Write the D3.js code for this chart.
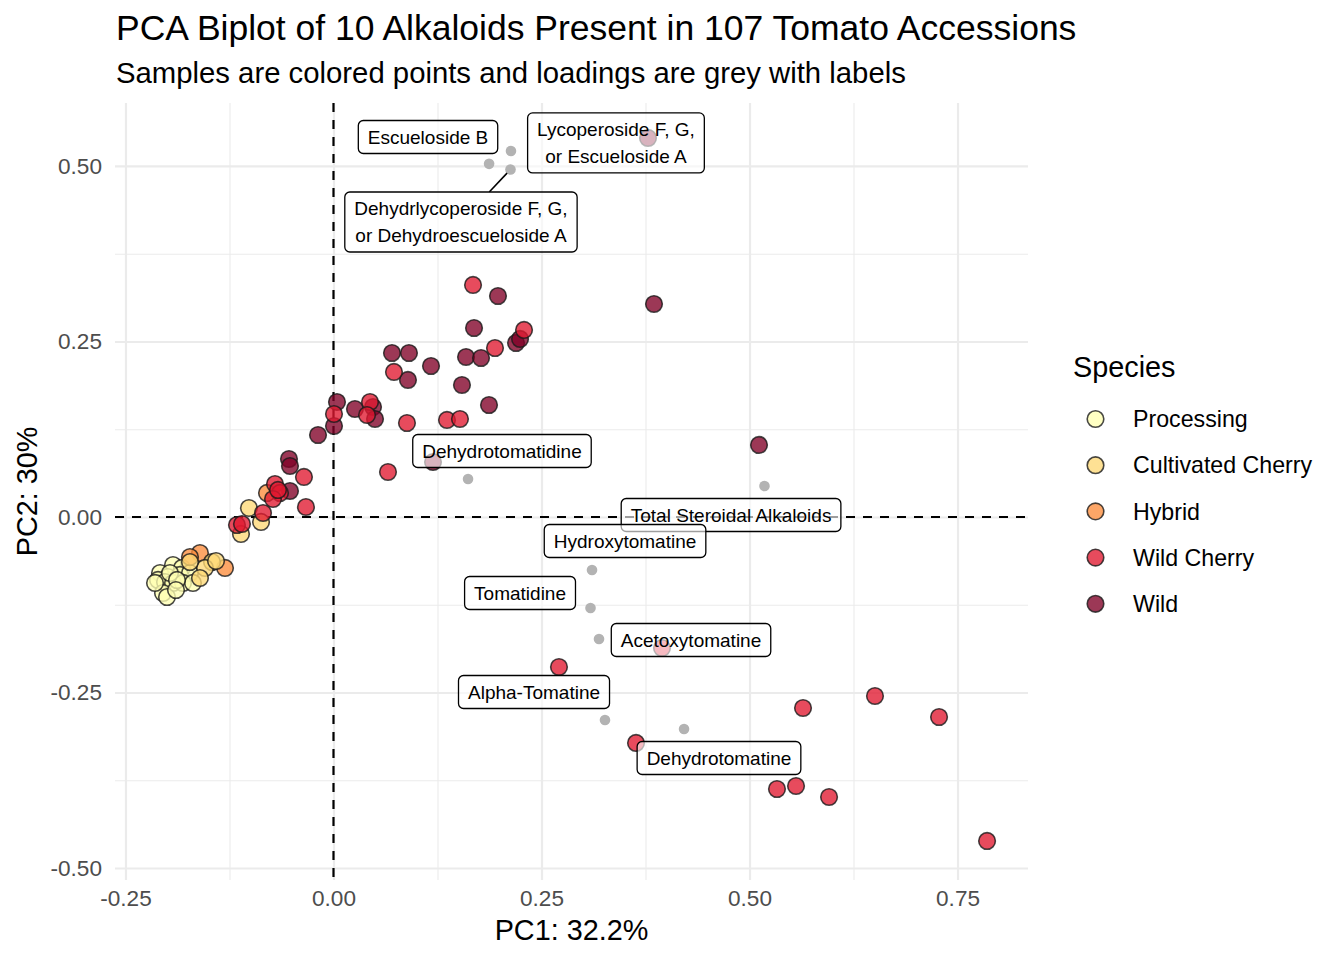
<!DOCTYPE html>
<html>
<head>
<meta charset="utf-8">
<script src="https://cdn.jsdelivr.net/npm/d3@7"></script>
<style>
  body { margin: 0; background: #fff; }
  svg text { font-family: "Liberation Sans", Arial, Helvetica, sans-serif; }
</style>
</head>
<body>
<div id="biplot"></div>
<script>
/*********************************************
** PCA biplot of tomato alkaloids
** d3 v7
**********************************************/

// legend order and palette
var species = ["Processing", "Cultivated Cherry", "Hybrid", "Wild Cherry", "Wild"];
var speciesColors = ["#FFFFB2", "#FED976", "#FD8D3C", "#E0182F", "#800026"];

// sample scores, [PC1, PC2]
var processingScores = [
  [-0.1929, -0.0684], [-0.1821, -0.0726], [-0.2085, -0.0798], [-0.1989, -0.0855],
  [-0.1845, -0.0826], [-0.1725, -0.0798], [-0.2109, -0.0897], [-0.2025, -0.0926],
  [-0.1929, -0.0940], [-0.1809, -0.0940], [-0.1689, -0.0940], [-0.2049, -0.1083],
  [-0.2001, -0.1140], [-0.2145, -0.0940], [-0.1965, -0.0798], [-0.1881, -0.0897],
  [-0.1893, -0.1040]
];
var cultivatedScores = [
  [-0.1016, 0.0128], [-0.0871, -0.0071], [-0.1112, -0.0242], [-0.1460, -0.0641],
  [-0.1544, -0.0726], [-0.1412, -0.0627], [-0.1725, -0.0641], [-0.1605, -0.0869]
];
var hybridScores = [
  [-0.0799, 0.0342], [-0.1605, -0.0513], [-0.1725, -0.0570], [-0.1304, -0.0726]
];
var wildCherryScores = [
  [0.1677, 0.3305], [0.2290, 0.2664], [0.1941, 0.2407], [0.0727, 0.2066],
  [0.1364, 0.1382], [0.1520, 0.1396], [0.0883, 0.1339], [0.0006, 0.1467],
  [0.0439, 0.1638], [0.0403, 0.1453], [0.0655, 0.0641], [-0.0355, 0.0570],
  [-0.0331, 0.0142], [-0.0703, 0.0470], [-0.0643, 0.0342], [-0.0727, 0.0256],
  [-0.0667, 0.0385], [-0.0847, 0.0057], [-0.1160, -0.0114], [-0.1100, -0.0100],
  [0.2710, -0.2137], [0.3948, -0.1866], [0.3636, -0.3219], [0.5643, -0.2721],
  [0.6508, -0.2550], [0.7278, -0.2849], [0.5330, -0.3875], [0.5559, -0.3832],
  [0.5956, -0.3989], [0.7855, -0.4615]
];
var wildScores = [
  [0.1977, 0.3148], [0.1689, 0.2692], [0.2194, 0.2479], [0.2242, 0.2536],
  [0.1593, 0.2279], [0.1773, 0.2265], [0.0703, 0.2336], [0.0907, 0.2336],
  [0.1172, 0.2151], [0.0895, 0.1952], [0.1544, 0.1880], [0.1869, 0.1595],
  [0.0042, 0.1638], [0.0006, 0.1296], [0.0258, 0.1538], [0.0475, 0.1567],
  [0.0499, 0.1396], [-0.0186, 0.1168], [0.1196, 0.0783], [-0.0535, 0.0826],
  [-0.0523, 0.0726], [-0.0523, 0.0370], [0.3852, 0.3034], [0.5114, 0.1026],
  [0.3780, 0.5399]
];

// loadings
var loadingNames = [
  "Escueloside B",
  "Lycoperoside F, G,\nor Escueloside A",
  "Dehydrlycoperoside F, G,\nor Dehydroescueloside A",
  "Dehydrotomatidine",
  "Total Steroidal Alkaloids",
  "Hydroxytomatine",
  "Tomatidine",
  "Acetoxytomatine",
  "Alpha-Tomatine",
  "Dehydrotomatine"
];
var loadingScores = [
  [0.1870, 0.5030], [0.2133, 0.5214], [0.2127, 0.4950], [0.1617, 0.0541],
  [0.5180, 0.0442], [0.3107, -0.0755], [0.3089, -0.1296], [0.3191, -0.1738],
  [0.3263, -0.2892], [0.4213, -0.3020]
];
// where the repelled labels ended up (data units)
var labelSpots = [
  [0.1136, 0.5413], [0.3395, 0.5328], [0.1532, 0.4202], [0.2025, 0.0940],
  [0.4778, 0.0028], [0.3504, -0.0342], [0.2242, -0.1083], [0.4297, -0.1752],
  [0.2410, -0.2493], [0.4633, -0.3433]
];

var xTicks = [-0.25, 0, 0.25, 0.5, 0.75];
var yTicks = [-0.5, -0.25, 0, 0.25, 0.5];

var titleText = "PCA Biplot of 10 Alkaloids Present in 107 Tomato Accessions";
var subtitleText = "Samples are colored points and loadings are grey with labels";
var xTitle = "PC1: 32.2%";
var yTitle = "PC2: 30%";

var plotWidth = 1344, plotHeight = 960;
var panel = {left: 115, right: 1028, top: 103, bottom: 880};

/**
* getGridlines
* [axis whose ticks run across the whole panel]
**/
function getGridlines(scale, ticks, tickSize, isX){
  var axis = isX ? d3.axisBottom(scale) : d3.axisLeft(scale);
  return axis
    .tickValues(ticks)
    .tickSize(tickSize)
    .tickFormat("")
    .tickSizeOuter(0);
}

function midpoints(ticks){
  var out = [];
  for (var i = 1; i < ticks.length; i++){
    out.push((ticks[i - 1] + ticks[i]) / 2);
  }
  return out;
}

function drawGrid(svg, xScale, yScale){
  var w = panel.right - panel.left, h = panel.bottom - panel.top;
  var layers = [
    {x: midpoints(xTicks), y: midpoints(yTicks), lw: 1.1},
    {x: xTicks, y: yTicks, lw: 2.2}
  ];
  layers.forEach(function(l){
    svg.append("g")
      .attr("transform", "translate(0," + panel.bottom + ")")
      .call(getGridlines(xScale, l.x, -h, true))
      .call(styleGrid, l.lw);
    svg.append("g")
      .attr("transform", "translate(" + panel.left + ",0)")
      .call(getGridlines(yScale, l.y, -w, false))
      .call(styleGrid, l.lw);
  });
}

function styleGrid(g, lw){
  g.select(".domain").remove();
  g.selectAll("line").attr("stroke", "#EBEBEB").attr("stroke-width", lw);
}

function drawAxes(svg, xScale, yScale){
  // plain hyphen for negatives, like the R output
  var fmt = function(d){ return d3.format(".2f")(d).replace("\u2212", "-"); };
  var xa = svg.append("g")
    .attr("transform", "translate(0," + panel.bottom + ")")
    .call(d3.axisBottom(xScale).tickValues(xTicks).tickFormat(fmt).tickSize(0).tickPadding(10));
  var ya = svg.append("g")
    .attr("transform", "translate(" + panel.left + ",0)")
    .call(d3.axisLeft(yScale).tickValues(yTicks).tickFormat(fmt).tickSize(0).tickPadding(13));
  [xa, ya].forEach(function(g){
    g.select(".domain").remove();
    g.attr("font-family", null).attr("font-size", null);
    g.selectAll("text").attr("fill", "#4D4D4D").style("font-size", "22.6px");
  });

  svg.append("text")
    .attr("x", (panel.left + panel.right) / 2)
    .attr("y", 940)
    .attr("text-anchor", "middle")
    .style("font-size", "28.8px")
    .text(xTitle);
  svg.append("text")
    .attr("transform", "translate(37," + (panel.top + panel.bottom) / 2 + ") rotate(-90)")
    .attr("text-anchor", "middle")
    .style("font-size", "28.8px")
    .text(yTitle);
}

function drawSamples(svg, xScale, yScale, color){
  var groups = [
    {name: "Processing", pts: processingScores},
    {name: "Hybrid", pts: hybridScores},
    {name: "Cultivated Cherry", pts: cultivatedScores},
    {name: "Wild", pts: wildScores},
    {name: "Wild Cherry", pts: wildCherryScores}
  ];
  groups.forEach(function(gr){
    svg.append("g").selectAll("circle")
      .data(gr.pts)
      .enter()
      .append("circle")
      .attr("cx", function(d){ return xScale(d[0]); })
      .attr("cy", function(d){ return yScale(d[1]); })
      .attr("r", 8.3)
      .attr("fill", color(gr.name))
      .attr("fill-opacity", 0.78)
      .attr("stroke", "#1a1a1a")
      .attr("stroke-opacity", 0.8)
      .attr("stroke-width", 1.6);
  });
}

function drawLoadings(svg, xScale, yScale){
  svg.append("g").selectAll("circle")
    .data(loadingScores)
    .enter()
    .append("circle")
    .attr("cx", function(d){ return xScale(d[0]); })
    .attr("cy", function(d){ return yScale(d[1]); })
    .attr("r", 5.3)
    .attr("fill", "#B3B3B3");

  var fs = 19, lineH = 27, padX = 9.5;
  var segG = svg.append("g");
  var lab = svg.append("g").selectAll("g")
    .data(loadingNames)
    .enter()
    .append("g")
    .attr("transform", function(d, i){
      return "translate(" + xScale(labelSpots[i][0]) + "," + yScale(labelSpots[i][1]) + ")";
    });

  lab.each(function(name, i){
    var g = d3.select(this);
    var lines = name.split("\n");
    var rect = g.append("rect");
    var maxW = 0;
    lines.forEach(function(t, k){
      var tx = g.append("text")
        .attr("text-anchor", "middle")
        .attr("x", 0)
        .attr("y", (k - (lines.length - 1) / 2) * lineH + fs * 0.35)
        .style("font-size", fs + "px")
        .text(t);
      maxW = Math.max(maxW, tx.node().getComputedTextLength());
    });
    var bw = maxW + 2 * padX, bh = lines.length * lineH + 6;
    rect.attr("x", -bw / 2).attr("y", -bh / 2)
      .attr("width", bw).attr("height", bh)
      .attr("rx", 5).attr("ry", 5)
      .attr("fill", "#fff").attr("fill-opacity", 0.62)
      .attr("stroke", "#000").attr("stroke-width", 1.3);

    // segment back to the loading when the label sits far from it
    var cx = xScale(labelSpots[i][0]), cy = yScale(labelSpots[i][1]);
    var px = xScale(loadingScores[i][0]), py = yScale(loadingScores[i][1]);
    var dx = Math.max(Math.abs(px - cx) - bw / 2, 0);
    var dy = Math.max(Math.abs(py - cy) - bh / 2, 0);
    if (Math.sqrt(dx * dx + dy * dy) > 18){
      var vx = px - cx, vy = py - cy;
      var t = Math.min((bw / 2) / Math.abs(vx || 1e-9), (bh / 2) / Math.abs(vy || 1e-9));
      var len = Math.sqrt(vx * vx + vy * vy);
      var back = 5 / len;
      segG.append("line")
        .attr("x1", cx + vx * t).attr("y1", cy + vy * t)
        .attr("x2", px - vx * back).attr("y2", py - vy * back)
        .attr("stroke", "#000").attr("stroke-width", 1.6);
    }
  });
}

function drawLegend(svg, color){
  var lg = svg.append("g").attr("transform", "translate(1073,0)");
  lg.append("text")
    .attr("x", 0).attr("y", 377)
    .style("font-size", "28.8px")
    .text("Species");
  var items = lg.selectAll(".key")
    .data(species)
    .enter()
    .append("g")
    .attr("class", "key")
    .attr("transform", function(d, i){ return "translate(0," + (419 + i * 46.2) + ")"; });
  items.append("circle")
    .attr("cx", 22.5).attr("cy", 0).attr("r", 8.3)
    .attr("fill", function(d){ return color(d); })
    .attr("fill-opacity", 0.78)
    .attr("stroke", "#1a1a1a").attr("stroke-opacity", 0.8)
    .attr("stroke-width", 1.6);
  items.append("text")
    .attr("x", 60).attr("y", 0).attr("dy", "0.35em")
    .style("font-size", "23.2px")
    .text(function(d){ return d; });
}

function displayBiplot(target){
  var svg = d3.select(target)
    .append("svg")
    .attr("width", plotWidth)
    .attr("height", plotHeight);

  var xScale = d3.scaleLinear().domain([-0.2626, 0.8347]).range([panel.left, panel.right]);
  var yScale = d3.scaleLinear().domain([-0.5171, 0.5897]).range([panel.bottom, panel.top]);
  var color = d3.scaleOrdinal().domain(species).range(speciesColors);

  drawGrid(svg, xScale, yScale);
  drawAxes(svg, xScale, yScale);

  // reference lines through the origin
  svg.append("line")
    .attr("x1", panel.left).attr("x2", panel.right)
    .attr("y1", yScale(0)).attr("y2", yScale(0))
    .attr("stroke", "#000").attr("stroke-width", 2.2).attr("stroke-dasharray", "9,8");
  svg.append("line")
    .attr("x1", xScale(0)).attr("x2", xScale(0))
    .attr("y1", panel.top).attr("y2", panel.bottom)
    .attr("stroke", "#000").attr("stroke-width", 2.2).attr("stroke-dasharray", "9,8");

  drawSamples(svg, xScale, yScale, color);
  drawLoadings(svg, xScale, yScale);
  drawLegend(svg, color);

  svg.append("text")
    .attr("x", 116).attr("y", 40)
    .style("font-size", "35.5px")
    .text(titleText);
  svg.append("text")
    .attr("x", 116).attr("y", 83)
    .style("font-size", "29.3px")
    .text(subtitleText);
}

displayBiplot("#biplot");
</script>
</body>
</html>
